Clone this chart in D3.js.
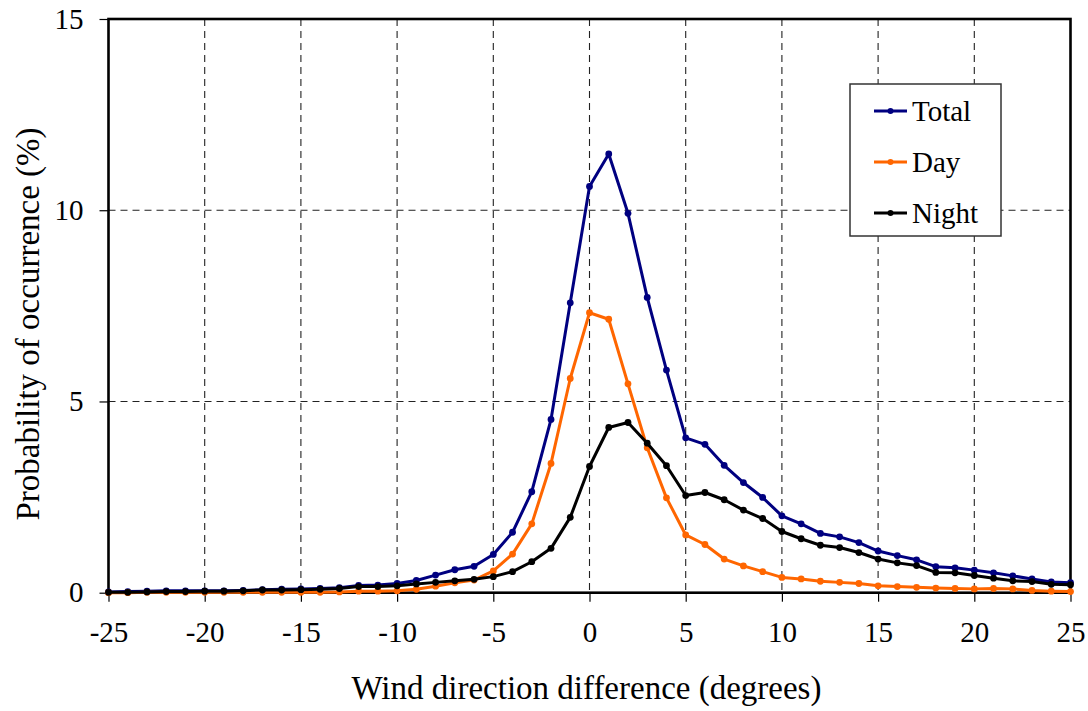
<!DOCTYPE html>
<html>
<head>
<meta charset="utf-8">
<script src="https://cdn.jsdelivr.net/npm/d3@7"></script>
<style>
  body { margin: 0; background: #fff; }
  svg text { font-family: "Liberation Serif", "Times New Roman", serif; fill: #000; }
</style>
</head>
<body>
<svg id="chart"></svg>
<script>
(() => {

  // wind direction difference (degrees), -25 .. 25
  const directions = d3.range(-25, 26);

  const totalValues = [
    0.02, 0.03, 0.04, 0.05, 0.05, 0.05, 0.05, 0.06, 0.08, 0.09,
    0.10, 0.11, 0.13, 0.19, 0.20, 0.24, 0.32, 0.46, 0.60, 0.69,
    1.00, 1.58, 2.64, 4.53, 7.58, 10.62, 11.47, 9.92, 7.72, 5.82,
    4.05, 3.88, 3.33, 2.88, 2.49, 2.01, 1.80, 1.55, 1.46, 1.31,
    1.09, 0.97, 0.86, 0.68, 0.65, 0.59, 0.52, 0.44, 0.36, 0.28, 0.26
  ];
  const dayValues = [
    0.00, 0.00, 0.01, 0.01, 0.01, 0.01, 0.01, 0.01, 0.01, 0.01,
    0.01, 0.01, 0.02, 0.04, 0.04, 0.05, 0.09, 0.17, 0.26, 0.33,
    0.57, 1.01, 1.80, 3.38, 5.60, 7.32, 7.15, 5.46, 3.79, 2.48,
    1.51, 1.26, 0.88, 0.70, 0.55, 0.40, 0.36, 0.30, 0.27, 0.24,
    0.18, 0.16, 0.14, 0.12, 0.11, 0.10, 0.11, 0.10, 0.06, 0.04, 0.03
  ];
  const nightValues = [
    0.01, 0.01, 0.02, 0.03, 0.03, 0.04, 0.04, 0.05, 0.07, 0.07,
    0.08, 0.09, 0.11, 0.16, 0.16, 0.18, 0.23, 0.27, 0.31, 0.35,
    0.42, 0.55, 0.81, 1.16, 1.97, 3.30, 4.32, 4.45, 3.91, 3.32,
    2.54, 2.62, 2.43, 2.16, 1.94, 1.60, 1.41, 1.24, 1.18, 1.05,
    0.88, 0.78, 0.71, 0.53, 0.52, 0.45, 0.38, 0.31, 0.29, 0.22, 0.21
  ];

  const xTicks = [-25, -20, -15, -10, -5, 0, 5, 10, 15, 20, 25];
  const yTicks = [0, 5, 10, 15];

  const seriesNames  = ['Total', 'Day', 'Night'];
  const seriesColors = ['#000080', '#ff6600', '#000000'];
  const seriesValues = [totalValues, dayValues, nightValues];

  const svgWidth  = 1088;
  const svgHeight = 711;
  const margin = { top: 19, right: 17.5, bottom: 118.3, left: 108.5 };
  const width  = svgWidth - margin.left - margin.right;
  const height = svgHeight - margin.top - margin.bottom;

  const svg = d3.select('#chart')
    .attr('width', svgWidth)
    .attr('height', svgHeight);

  const g = svg.append('g')
    .attr('transform', `translate(${margin.left}, ${margin.top})`);

  const x = d3.scaleLinear().domain([-25, 25]).range([0, width]);
  const y = d3.scaleLinear().domain([0, 15]).range([height, 0]);

  // grid
  g.append('g')
    .selectAll('line')
    .data(xTicks.slice(1, -1))
    .enter()
    .append('line')
    .attr('x1', d => x(d)).attr('x2', d => x(d))
    .attr('y1', 0).attr('y2', height)
    .attr('stroke', '#222')
    .attr('stroke-width', 1.1)
    .attr('stroke-dasharray', '7,5');

  g.append('g')
    .selectAll('line')
    .data(yTicks.slice(1, -1))
    .enter()
    .append('line')
    .attr('x1', 0).attr('x2', width)
    .attr('y1', d => y(d)).attr('y2', d => y(d))
    .attr('stroke', '#222')
    .attr('stroke-width', 1.1)
    .attr('stroke-dasharray', '7,5');

  // axes, plain hyphen for negatives as in the original
  const fmt = d => String(d);
  const xAxis = g.append('g')
    .attr('transform', `translate(0, ${height})`)
    .call(d3.axisBottom(x).tickValues(xTicks).tickFormat(fmt).tickSize(9).tickPadding(20));
  const yAxis = g.append('g')
    .call(d3.axisLeft(y).tickValues(yTicks).tickFormat(fmt).tickSize(9).tickPadding(16));

  [xAxis, yAxis].forEach(ax => {
    ax.select('.domain').remove();
    ax.selectAll('line').attr('stroke', '#000').attr('stroke-width', 1.2);
    ax.selectAll('text')
      .style('font-family', '"Liberation Serif", "Times New Roman", serif')
      .style('font-size', '29px')
      .attr('fill', '#000');
  });
  xAxis.selectAll('text').attr('dy', '0.71em');

  // plot frame
  g.append('rect')
    .attr('width', width)
    .attr('height', height)
    .attr('fill', 'none')
    .attr('stroke', '#000')
    .attr('stroke-width', 2.6);

  // series
  const line = d3.line()
    .x((d, i) => x(directions[i]))
    .y(d => y(d));

  seriesValues.forEach((values, k) => {
    const s = g.append('g');
    s.append('path')
      .datum(values)
      .attr('d', line)
      .attr('fill', 'none')
      .attr('stroke', seriesColors[k])
      .attr('stroke-width', 3)
      .attr('stroke-linejoin', 'round');
    s.selectAll('circle')
      .data(values)
      .enter()
      .append('circle')
      .attr('cx', (d, i) => x(directions[i]))
      .attr('cy', d => y(d))
      .attr('r', 3.4)
      .attr('fill', seriesColors[k]);
  });

  // axis titles
  svg.append('text')
    .attr('x', margin.left + width / 2 - 3)
    .attr('y', 699)
    .attr('text-anchor', 'middle')
    .style('font-size', '33px')
    .text('Wind direction difference (degrees)');

  svg.append('text')
    .attr('transform', 'translate(39, 324) rotate(-90)')
    .attr('text-anchor', 'middle')
    .style('font-size', '33px')
    .text('Probability of occurrence (%)');

  // legend
  const legend = svg.append('g')
    .attr('transform', 'translate(850, 84)');
  legend.append('rect')
    .attr('width', 151)
    .attr('height', 152)
    .attr('fill', '#fff')
    .attr('stroke', '#333')
    .attr('stroke-width', 1.5);

  const items = legend.selectAll('g.item')
    .data(seriesNames)
    .enter()
    .append('g')
    .attr('class', 'item')
    .attr('transform', (d, i) => `translate(0, ${27 + i * 51})`);
  items.append('line')
    .attr('x1', 24).attr('x2', 57)
    .attr('stroke', (d, i) => seriesColors[i])
    .attr('stroke-width', 3);
  items.append('circle')
    .attr('cx', 40.5)
    .attr('r', 3)
    .attr('fill', (d, i) => seriesColors[i]);
  items.append('text')
    .attr('x', 62)
    .attr('dy', '0.35em')
    .style('font-size', '29px')
    .text(d => d);

})();
</script>
</body>
</html>
